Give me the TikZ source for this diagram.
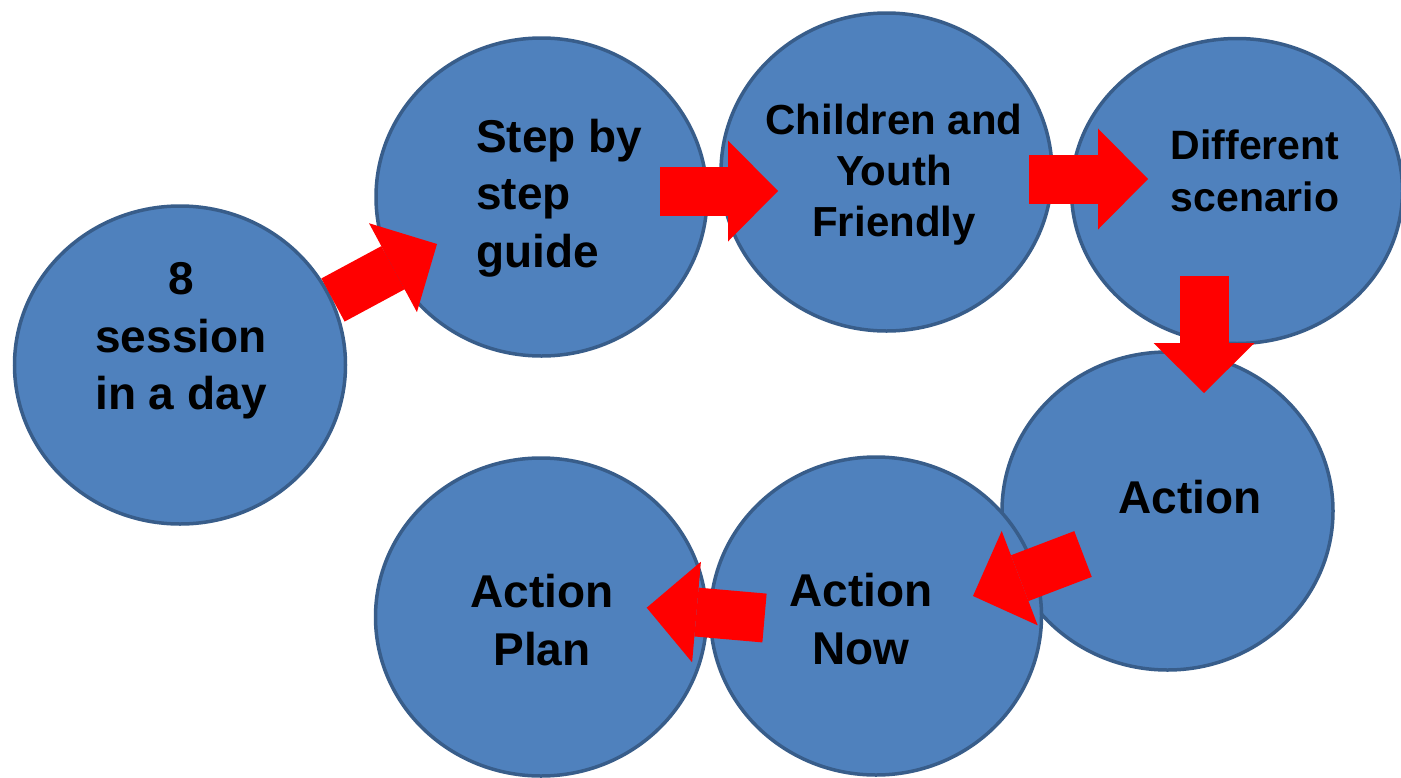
\documentclass[tikz,border=0pt]{standalone}
\usepackage{fontspec}
\setmainfont{Liberation Sans}
\usetikzlibrary{shapes.geometric,arrows.meta}
\definecolor{bubblefill}{HTML}{4F81BD}
\definecolor{bubbleedge}{HTML}{385D8A}
\tikzset{
  bubble/.style={ellipse,draw=bubbleedge,fill=bubblefill,line width=3.5pt,
    minimum width=331pt,minimum height=318pt,inner sep=0pt},
  bigtext/.style={font={\fontsize{46}{57.5}\selectfont\bfseries},align=center,inner sep=0pt},
  midtext/.style={font={\fontsize{42}{51}\selectfont\bfseries},align=center,inner sep=0pt},
  fatarrow/.style={draw=red,line width=49pt,
    -{Triangle[length=50pt,width=101pt,line width=0pt]}}
}
\begin{document}
\begin{tikzpicture}[x=1pt,y=-1pt]
\useasboundingbox (0,0) rectangle (1401,777);
% bubbles
\node[bubble] (day) at (180,365) {};
\node[bubble] (step) at (541.5,197) {};
\node[bubble] (youth) at (886.5,172) {};
\node[bubble,minimum height=305pt] (scen) at (1237,191) {};
\node[bubble] (act) at (1167.5,511) {};
\node[bubble] (now) at (876,616) {};
\node[bubble] (plan) at (541,617) {};
% labels
\node[bigtext] (daytxt) at (181,341) {8\\session\\in a day};
\node[bigtext,align=left,anchor=west] (steptxt) at (476,198) {Step by\\step\\guide};
\node[midtext] (youthtxt) at (894,175) {Children and\\Youth\\Friendly};
\node[midtext,font={\fontsize{41}{52}\selectfont\bfseries}] (scentxt) at (1255,171) {Different\\scenario};
\node[bigtext] (acttxt) at (1190,497) {Action};
\node[bigtext] (nowtxt) at (861,619) {Action\\Now};
\node[bigtext] (plantxt) at (542,620) {Action\\Plan};
% arrows
\draw[fatarrow] ([shift={(153,-65)}]day.center) -- ([shift={(-104.5,47)}]step.center);
\draw[fatarrow] ([shift={(118.5,-6)}]step.center) -- ([shift={(-108.5,19)}]youth.center);
\draw[fatarrow] ([shift={(142.5,7)}]youth.center) -- ([shift={(-89,-12)}]scen.center);
\draw[fatarrow] ([shift={(-33,85)}]scen.center) -- ([shift={(36.5,-118)}]act.center);
\draw[fatarrow] ([shift={(-84.5,43)}]act.center) -- ([shift={(97,-20)}]now.center);
\draw[fatarrow] ([shift={(-111.5,2)}]now.center) -- ([shift={(105.7,-9.3)}]plan.center);
\end{tikzpicture}
\end{document}
